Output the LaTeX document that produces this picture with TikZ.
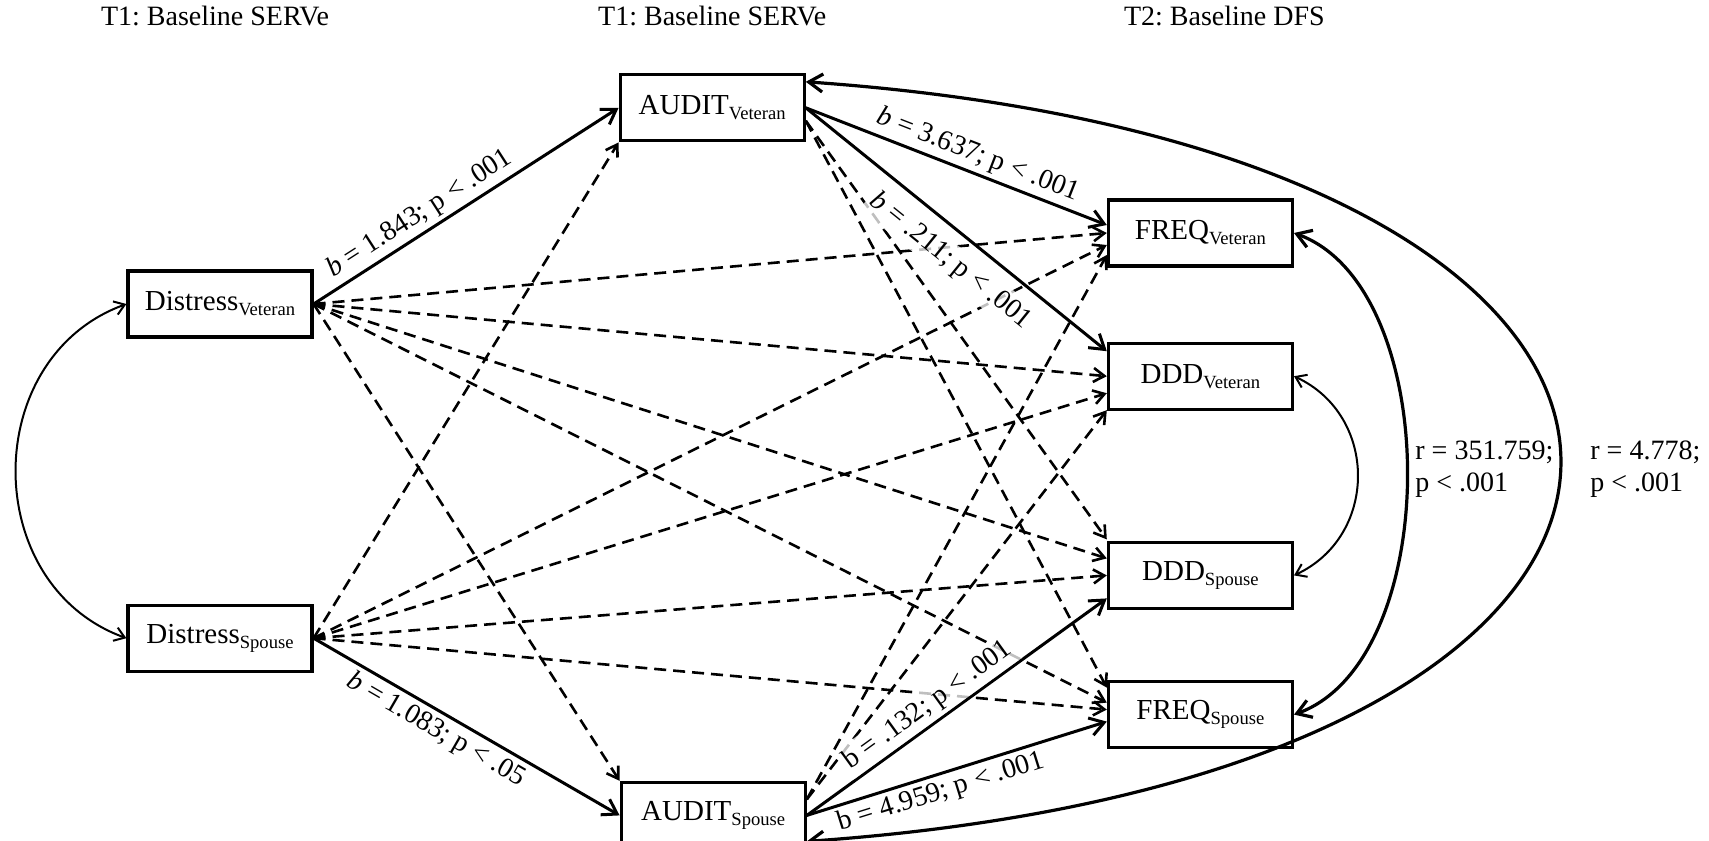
\documentclass[tikz,border=0pt]{standalone}
\usepackage{fontspec}
\setmainfont{Liberation Serif}
\usetikzlibrary{positioning,arrows.meta}
\frenchspacing
\newcommand{\subtxt}[1]{\raisebox{-2.5pt}{\fontsize{9.3}{10}\selectfont #1}}

\begin{document}
\begin{tikzpicture}[
    every node/.style={font=\fontsize{14}{16}\selectfont},
    measure/.style={draw, line width=1.6pt, minimum width=92pt, minimum height=33pt, inner sep=2pt, font=\fontsize{14.5}{16}\selectfont},
    head/.style={inner sep=0pt},
    sig/.style={line width=1.5pt, -{Straight Barb[length=7pt,width=9pt]}},
    nonsig/.style={line width=1.3pt, dash pattern=on 6pt off 3.5pt, -{Straight Barb[length=5.5pt,width=7pt]}},
    assoc/.style={line width=1pt, {Straight Barb[length=5pt,width=7pt]}-{Straight Barb[length=5pt,width=7pt]}},
    assocbold/.style={line width=1.6pt, {Straight Barb[length=7pt,width=9pt]}-{Straight Barb[length=7pt,width=9pt]}},
    coef/.style={sloped, inner sep=2pt},
    veil/.style={fill=white, fill opacity=0.75, text opacity=1}
  ]
  \useasboundingbox (0,0) rectangle (854.5pt,-420.5pt);

  % T1 predictors
  \node[measure] (distV) at (110pt,-152pt) {Distress\subtxt{Veteran}};
  \node[measure, below=132.5pt of distV] (distS) {Distress\subtxt{Spouse}};

  % T1 alcohol use
  \node[measure, above right=63.5pt and 152.5pt of distV] (auditV) {AUDIT\subtxt{Veteran}};
  \node[measure, below right=54pt and 153pt of distS] (auditS) {AUDIT\subtxt{Spouse}};

  % T2 outcomes
  \node[measure, below right=28pt and 150.5pt of auditV] (freqV) {FREQ\subtxt{Veteran}};
  \node[measure, below=37pt of freqV] (dddV) {DDD\subtxt{Veteran}};
  \node[measure, below=65pt of dddV] (dddS) {DDD\subtxt{Spouse}};
  \node[measure, below=35pt of dddS] (freqS) {FREQ\subtxt{Spouse}};

  % column heads
  \node[head, above=23.5pt of auditV] (headB) {T1: Baseline SERVe};
  \node[head] (headA) at ([xshift=-2.5pt]headB -| distV) {T1: Baseline SERVe};
  \node[head] (headC) at ([xshift=12pt]headB -| freqV) {T2: Baseline DFS};

  % non-significant paths
  \draw[nonsig] (distV.east) -- (freqV.west);
  \draw[nonsig] (distV.east) -- (dddV.west);
  \draw[nonsig] (distV.east) -- ([yshift=8.5pt]dddS.west);
  \draw[nonsig] (distV.east) -- ([yshift=6pt]freqS.west);
  \draw[nonsig] (distV.east) -- (auditS.north west);
  \draw[nonsig] (distS.east) -- (auditV.south west);
  \draw[nonsig] (distS.east) -- ([yshift=-6pt]freqV.west);
  \draw[nonsig] (distS.east) -- ([yshift=-8.5pt]dddV.west);
  \draw[nonsig] (distS.east) -- (dddS.west);
  \draw[nonsig] (distS.east) -- ([yshift=2.5pt]freqS.west);
  \draw[nonsig] ([yshift=-6.5pt]auditV.east) -- ([yshift=18pt]dddS.west);
  \draw[nonsig] ([yshift=-6.5pt]auditV.east) -- ([yshift=13.5pt]freqS.west);
  \draw[nonsig] ([yshift=8pt]auditS.east) -- ([yshift=-11pt]freqV.west);
  \draw[nonsig] ([yshift=8pt]auditS.east) -- ([yshift=-17pt]dddV.west);

  % significant paths
  \draw[sig] (distV.east) -- node[coef, above, pos=0.38] {\textit{b} = 1.843; p < .001} (auditV.west);
  \draw[sig] (distS.east) -- node[coef, below, pos=0.43] {\textit{b} = 1.083; p < .05} (auditS.west);
  \draw[sig] (auditV.east) -- node[coef, above, pos=0.55] {\textit{b} = 3.637; p < .001} ([yshift=4pt]freqV.west);
  \draw[sig] (auditV.east) -- node[coef, veil, below=5pt, pos=0.54] {\textit{b} = .211; p < .001} ([yshift=12.5pt]dddV.west);
  \draw[sig] (auditS.east) -- node[coef, veil, above, pos=0.44] {b = .132; p < .001} ([yshift=-11.5pt]dddS.west);
  \draw[sig] (auditS.east) -- node[coef, below, pos=0.43] {b = 4.959; p < .001} ([yshift=-3.5pt]freqS.west);

  % covariances
  \draw[assoc] (distV.west) to[out=200, in=160, looseness=1.2] (distS.west);
  \draw[assoc] (dddV.east) to[out=-25, in=25, looseness=1.2] (dddS.east);
  \draw[assocbold] (freqV.east) to[out=-20, in=20, looseness=0.85] (freqS.east);
  \draw[assocbold] ([yshift=13pt]auditV.east) to[out=-4, in=4, looseness=3.4] ([yshift=-13pt]auditS.east);

  \node[anchor=north west, align=left, inner sep=0pt] (rFreq) at ([shift={(60.5pt,-15pt)}]dddV.south east) {r = 351.759;\\ p < .001};
  \node[anchor=north west, align=left, inner sep=0pt] (rAudit) at ([shift={(148pt,-15pt)}]dddV.south east) {r = 4.778;\\ p < .001};
\end{tikzpicture}
\end{document}
